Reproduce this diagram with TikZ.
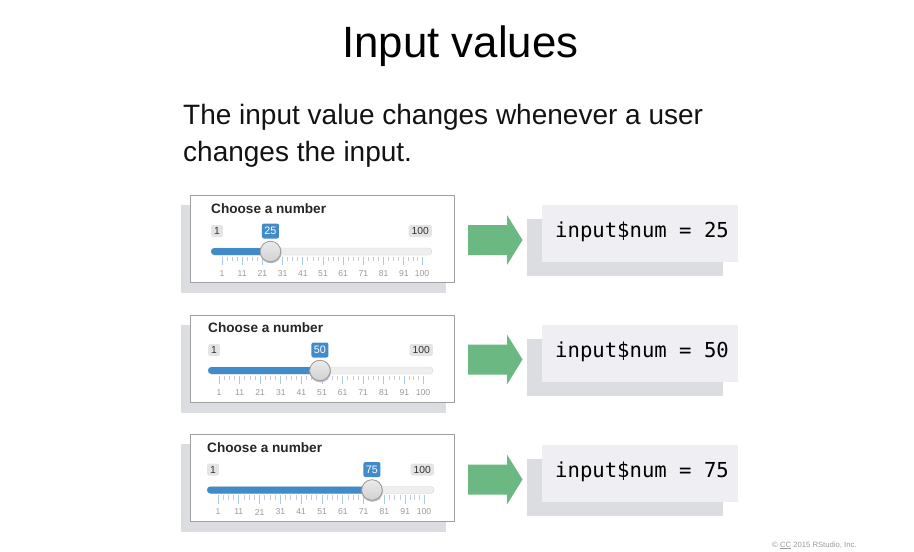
\documentclass[tikz,border=0pt]{standalone}
\usepackage{fontspec}
\setmainfont{Liberation Sans}
\newfontfamily\codefont{DejaVu Sans Mono}
\definecolor{sbblue}{HTML}{428BCA}
\definecolor{shadowgray}{HTML}{DCDDE1}
\definecolor{codebg}{HTML}{EFEFF3}
\definecolor{arrowgreen}{RGB}{108,184,130}
\definecolor{boxborder}{HTML}{A0A0A0}
\definecolor{labelgray}{HTML}{E4E4E4}
\definecolor{gridgray}{HTML}{9A9A9A}
\definecolor{majortick}{HTML}{A9C9EA}
\definecolor{minortick}{HTML}{C2CCD6}
\definecolor{trackbg}{HTML}{EEEEEE}
\definecolor{trackline}{HTML}{D4D4D4}
\tikzset{
  slidertitle/.style={anchor=base west, inner sep=0, text=black!85, font=\bfseries\fontsize{13.6}{16}\selectfont},
  limitlbl/.style={fill=labelgray, text=black!80, rounded corners=2pt, inner xsep=3pt, inner ysep=0pt, minimum height=12pt, font=\fontsize{10.3}{12}\selectfont},
  valuelbl/.style={fill=sbblue, text=white, rounded corners=2pt, inner xsep=2.5pt, inner ysep=0pt, minimum height=15pt, font=\fontsize{10.8}{12}\selectfont},
  ticklbl/.style={inner sep=0, text=gridgray, font=\fontsize{8.6}{10}\selectfont},
  codetext/.style={anchor=base west, inner sep=0, text=black, font=\codefont\fontsize{20.6}{24}\selectfont},
  greenarrow/.style={fill=arrowgreen},
}
% #1 name, #2 box top, #3 content top, #4 track left, #5 track right, #6 value
\newcommand\drawslider[6]{%
  \pgfmathsetmacro\tL{#4+11}%
  \pgfmathsetmacro\tR{#5-10}%
  \pgfmathsetmacro\kx{\tL+(#6-1)/99*(\tR-\tL)}%
  \fill[shadowgray] (181,#2+10) rectangle (446,#2+97.5);
  \draw[boxborder, fill=white, line width=0.9pt] (190,#2) rectangle (454,#2+87.5);
  \node[slidertitle] (#1title) at (#4,#3+17.5) {Choose a number};
  \node[limitlbl, anchor=west] (#1min) at (#4,#3+35) {1};
  \node[limitlbl, anchor=east] (#1max) at (#5,#3+35) {100};
  \node[valuelbl] (#1val) at (\kx,#3+35) {#6};
  \draw[trackline, fill=trackbg, rounded corners=3.5pt] (#4,#3+52) rectangle (#5,#3+59);
  \fill[sbblue, rounded corners=3.5pt] (#4,#3+52) rectangle (\kx,#3+59);
  \foreach \i in {0,...,9}{%
    \pgfmathsetmacro\xa{\tL+(10*\i)/99*(\tR-\tL)}%
    \pgfmathsetmacro\xb{ifthenelse(\i==9,\tR,\tL+(10*\i+10)/99*(\tR-\tL))}%
    \foreach \j in {1,...,3}{%
      \pgfmathsetmacro\xm{\xa+\j/4*(\xb-\xa)}%
      \draw[minortick, line width=0.8pt] (\xm,#3+60.5) -- (\xm,#3+65);
    }
  }
  \foreach \i in {0,...,10}{%
    \pgfmathtruncatemacro\vv{ifthenelse(\i==10,100,1+10*\i)}%
    \pgfmathsetmacro\xx{\tL+(\vv-1)/99*(\tR-\tL)}%
    \draw[majortick, line width=0.9pt] (\xx,#3+60.5) -- (\xx,#3+69);
    \node[ticklbl] (#1tick\i) at (\xx,#3+77.5) {\vv};
  }
  \fill[black!25] (\kx+0.3,#3+56.5) circle (10.8pt);
  \shade[top color=white!92!black, bottom color=black!18, draw=black!40, line width=0.8pt] (\kx,#3+55.5) circle (10.3pt);
  \coordinate (#1knob) at (\kx,#3+55.5);
}
% #1 name, #2 box top, #3 arrow centre, #4 value
\newcommand\drawresult[4]{%
  \fill[greenarrow] (468,#3-15) -- (507,#3-15) -- (507,#3-25) -- (522.5,#3) -- (507,#3+25) -- (507,#3+15) -- (468,#3+15) -- cycle;
  \coordinate (#1arrow) at (522.5,#3);
  \fill[shadowgray] (527,#2+14) rectangle (723,#2+71);
  \fill[codebg] (542,#2) rectangle (738,#2+57);
  \node[codetext] (#1code) at (555,#2+32.5) {input\$num = #4};
}
\begin{document}
\begin{tikzpicture}[x=1pt,y=-1pt]
\useasboundingbox (0,0) rectangle (914,552);
\node[anchor=base, inner sep=0, font=\fontsize{43.8}{50}\selectfont] (title) at (460.5,57) {Input values};
\node[anchor=base west, inner sep=0, text=black!93, font=\fontsize{28}{34}\selectfont] (body1) at (183,124.5) {The input value changes whenever a user};
\node[anchor=base west, inner sep=0, text=black!93, font=\fontsize{28}{34}\selectfont] (body2) at (183,161.5) {changes the input.};
\drawslider{sa}{195}{196}{211}{432}{25}
\drawslider{sb}{315}{315}{208}{433}{50}
\drawslider{sc}{434}{434.5}{207}{434}{75}
\drawresult{ra}{205}{240}{25}
\drawresult{rb}{325}{359.5}{50}
\drawresult{rc}{445}{479.5}{75}
\node[anchor=base west, inner sep=0, text=gridgray, font=\fontsize{7.7}{9}\selectfont] (copy) at (772,547) {© \underline{CC} 2015 RStudio, Inc.};
\end{tikzpicture}
\end{document}
